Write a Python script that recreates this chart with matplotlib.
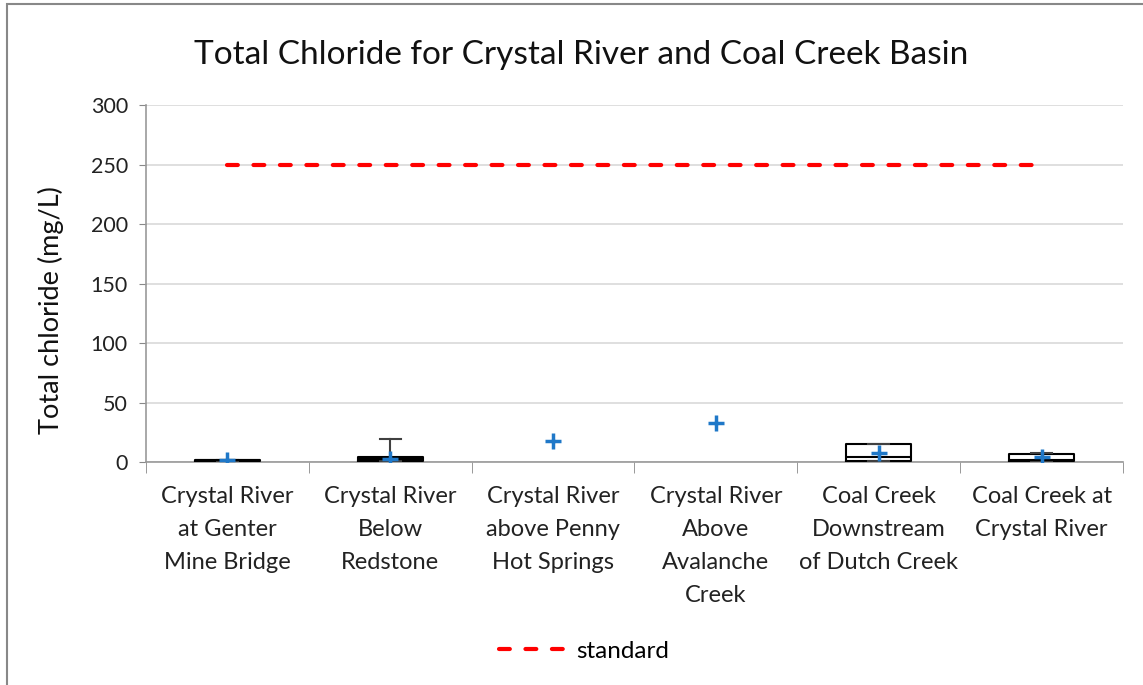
import matplotlib
matplotlib.use("Agg")
import matplotlib.pyplot as plt
from matplotlib.patches import Rectangle
import numpy as np

plt.rcParams['font.family'] = ['Lato', 'DejaVu Sans']

categories = [
    "Crystal River\nat Genter\nMine Bridge",
    "Crystal River\nBelow\nRedstone",
    "Crystal River\nabove Penny\nHot Springs",
    "Crystal River\nAbove\nAvalanche\nCreek",
    "Coal Creek\nDownstream\nof Dutch Creek",
    "Coal Creek at\nCrystal River",
]
q1 = [1.0, 1.0, np.nan, np.nan, 1.0, 1.0]
median = [1.3, 2.5, np.nan, np.nan, 4.5, 2.0]
q3 = [1.6, 4.0, np.nan, np.nan, 14.8, 7.0]
whis_lo = [1.0, 1.0, np.nan, np.nan, 1.0, 1.0]
whis_hi = [1.6, 19.5, np.nan, np.nan, 14.8, 8.0]
means = [1.4, 2.5, 17.6, 33.0, 7.3, 4.5]
standard = [250, 250, 250, 250, 250, 250]
y_ticks = [0, 50, 100, 150, 200, 250, 300]

fig = plt.figure(figsize=(11.43, 6.85), dpi=100)
fig.patches.append(Rectangle((0.006, -0.01), 1.2, 1.0 - 0.006 + 0.01, transform=fig.transFigure,
                             fill=False, edgecolor='#888888', linewidth=1.5))
ax = fig.add_axes([0.1277, 0.3255, 0.8548, 0.5212])

x = np.arange(len(categories))
stats = []
pos = []
for i in range(len(categories)):
    if np.isnan(q1[i]):
        continue
    stats.append(dict(med=median[i], q1=q1[i], q3=q3[i], whislo=whis_lo[i], whishi=whis_hi[i], fliers=[]))
    pos.append(x[i])
ax.bxp(stats, positions=pos, widths=0.4, showfliers=False,
       boxprops=dict(color='black', linewidth=1.5),
       medianprops=dict(color='black', linewidth=1.5),
       whiskerprops=dict(color='#404040', linewidth=1.5),
       capprops=dict(color='#404040', linewidth=1.5), capwidths=0.13, zorder=3)

ax.plot(x, means, linestyle='none', marker='+', markersize=11, markeredgewidth=2.5,
        color='#1f78c8', zorder=4)
ax.plot(x, standard, color='#ff0000', linestyle=(0, (2.6, 3.75)), linewidth=3.0,
        dash_capstyle='round', label='standard', zorder=2)

ax.set_xlim(-0.5, len(categories) - 0.5)
ax.set_ylim(0, 300)
ax.set_yticks(y_ticks)
ax.tick_params(axis='y', labelsize=15.5, length=5, color='#888888', labelcolor='#222222', pad=8)
ax.set_xticks(x)
ax.set_xticklabels(categories, fontsize=17, linespacing=1.72, color='#222222')
ax.tick_params(axis='x', length=0, pad=17)
ax.set_xticks(np.arange(-0.5, len(categories)), minor=True)
ax.tick_params(axis='x', which='minor', length=8, color='#888888')
ax.grid(axis='y', color='#d9d9d9', linewidth=1.2, zorder=0)
ax.set_axisbelow(True)
for s in ['top', 'right']:
    ax.spines[s].set_visible(False)
for s in ['left', 'bottom']:
    ax.spines[s].set_color('#999999')
    ax.spines[s].set_linewidth(1.2)
fig.text(0.0446, 1 - 310 / 685, 'Total chloride (mg/L)', fontsize=19.5, color='#111111',
         rotation=90, ha='center', va='center')
fig.suptitle('Total Chloride for Crystal River and Coal Creek Basin', fontsize=24,
             x=0.508, y=0.942, color='#111111')
fig.legend(loc='center', bbox_to_anchor=(0.511, 0.049), frameon=False, fontsize=17.5,
           handlelength=2.75, handletextpad=0.45)

fig.savefig('out.png', dpi=100)
